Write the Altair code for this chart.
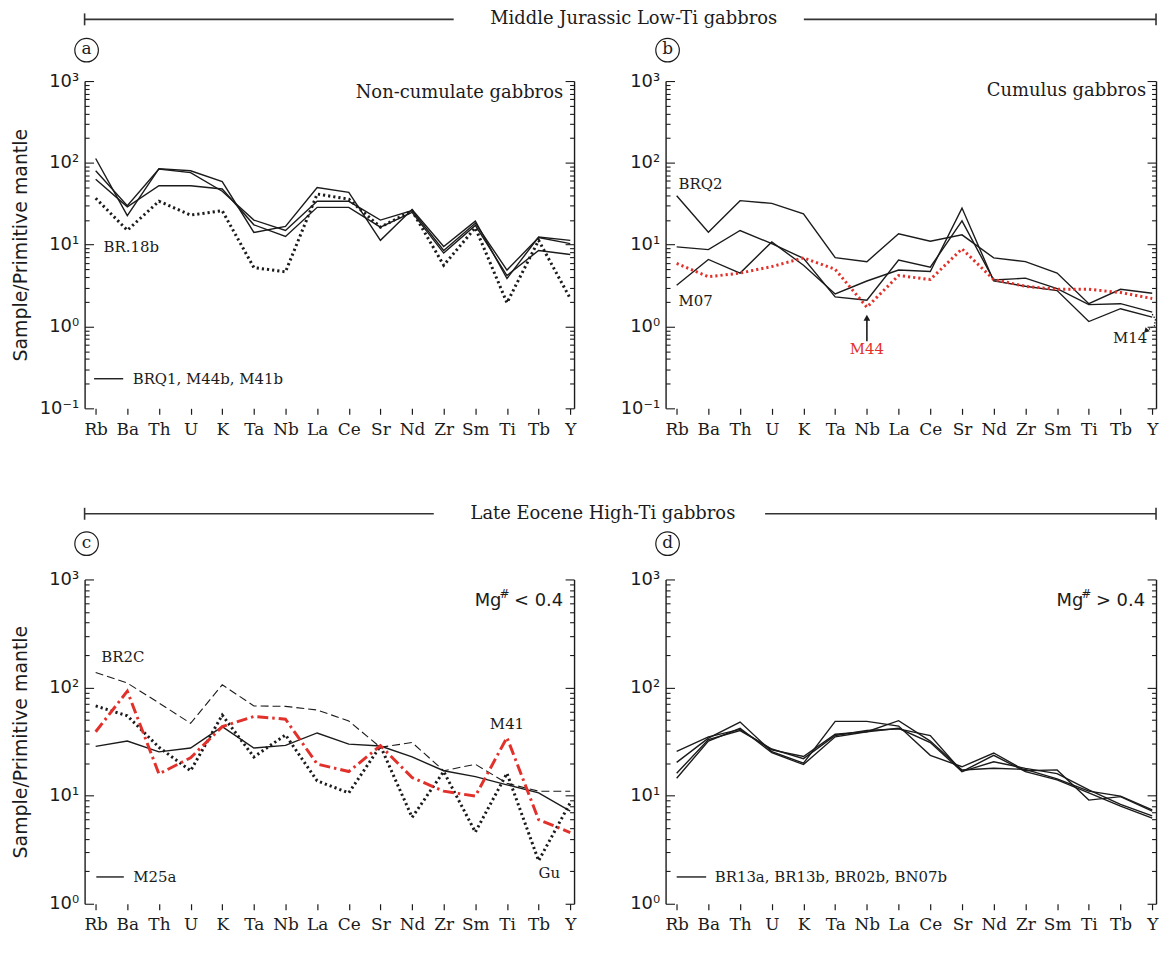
import altair as alt
import pandas as pd

# ---------------------------------------------------------------- data
ELEMENTS = ["Rb", "Ba", "Th", "U", "K", "Ta", "Nb", "La", "Ce", "Sr",
            "Nd", "Zr", "Sm", "Ti", "Tb", "Y"]

# (a) Middle Jurassic, non-cumulate gabbros
A_BRQ1 = [113, 22.7, 85, 80, 59, 14.1, 16.7, 50, 43.6, 11.3, 26.9, 9.5, 19.4, 3.86, 12.4, 11.3]
A_M44B = [80, 30, 84, 76, 45, 20, 14.9, 34, 33.9, 20, 26.1, 8.5, 18.3, 4.9, 12.2, 10.3]
A_M41B = [63, 29, 52.6, 52.6, 48, 17.5, 12.6, 28.6, 28.6, 16.4, 24.9, 7.9, 17.2, 4.2, 8.5, 7.6]
A_BR18B = [37, 15, 34, 23, 26, 5.25, 4.66, 41.6, 36, 16.4, 26, 5.6, 16.1, 1.95, 11.3, 2.2]

# (b) Middle Jurassic, cumulus gabbros
B_BRQ2 = [39.7, 14.2, 34.5, 32, 23.8, 6.95, 6.2, 13.6, 11, 13.2, 6.9, 6.2, 4.5, 1.9, 2.85, 2.55]
B_M14 = [9.4, 8.7, 14.9, 10.3, 6.8, 2.3, 2.1, 6.5, 5.3, 19.5, 3.7, 3.9, 2.9, 1.85, 1.9, 1.5]
B_M07 = [3.2, 6.6, 4.5, 10.8, 5.6, 2.5, 3.6, 4.9, 4.7, 28, 3.6, 3.1, 2.75, 1.15, 1.65, 1.3]
B_M44 = [5.9, 4.05, 4.5, 5.4, 6.9, 5.0, 1.72, 4.2, 3.75, 8.9, 3.75, 3.1, 2.85, 2.85, 2.6, 2.2]

# (c) Late Eocene, Mg# < 0.4
C_BR2C = [138, 110, 72, 46.7, 106, 67.6, 67, 62, 49, 28, 31, 17, 19.5, 13, 11, 11]
C_M25A = [28.6, 32, 25.4, 27.6, 43.5, 27.6, 29.2, 38, 30, 28.8, 22.8, 17, 15, 12.6, 10.6, 7.2]
C_M41 = [39, 92.6, 15.9, 22.4, 43.5, 54, 51, 19.6, 16.7, 29, 14.7, 11, 9.9, 34.5, 6.0, 4.56]
C_GU = [67.6, 54.8, 28, 17, 55.6, 22.8, 36.5, 13.7, 10.6, 28.8, 6.3, 16.7, 4.6, 16.1, 2.5, 8.6]

# (d) Late Eocene, Mg# > 0.4
D_BR13A = [25.7, 35, 41, 26.5, 23, 37, 39, 49.4, 32, 17.3, 17.9, 17.5, 14.3, 11, 9.9, 7.4]
D_BR13B = [20.3, 34, 48, 25.5, 20, 48.6, 48.6, 44, 23.6, 18.5, 24.8, 17, 17.3, 9.1, 9.8, 7.2]
D_BR02B = [16.1, 33, 40, 27, 22, 36, 40, 41.5, 36, 16.7, 20.6, 17.9, 16, 11.3, 8.3, 6.5]
D_BN07B = [14.5, 32, 42, 25, 19.4, 35, 39, 42, 31, 16.7, 23.6, 16.7, 14, 10.6, 8.0, 6.2]

# ---------------------------------------------------------------- styles
SLAB = "DejaVu Serif"
SANS = "DejaVu Sans"
INK = "#1b1b1b"
RED = "#e2312b"

STYLE = {
    "solid": dict(color=INK, strokeWidth=1.4),
    "dotted": dict(color=INK, strokeWidth=3, strokeDash=[2.2, 3]),
    "reddot": dict(color=RED, strokeWidth=3, strokeDash=[2.2, 3]),
    "dashed": dict(color=INK, strokeWidth=1.1, strokeDash=[8, 4]),
    "reddashdot": dict(color=RED, strokeWidth=3, strokeDash=[11, 4, 2.5, 4]),
}

W_LEFT, W_RIGHT = 492, 493
H_TOP, H_BOT = 329, 326

LABEL_EXPR = "[" + ",".join("'%s'" % e for e in ELEMENTS) + "][datum.value]"
SUP = {-1: "\u207b\u00b9", 0: "\u2070", 1: "\u00b9", 2: "\u00b2", 3: "\u00b3"}


def tick_values(lo_exp):
    vals = []
    for e in range(lo_exp, 3):
        for m in range(1, 10):
            vals.append(round(m * 10 ** e, 6))
    vals.append(1000)
    return vals


def ylabel_expr(lo_exp):
    parts = []
    for e in range(3, lo_exp - 1, -1):
        parts.append("datum.value == %s ? '10%s'" % (repr(round(10 ** e, 6)), SUP[e]))
    return " : ".join(parts) + " : ''"


def major_test(lo_exp):
    arr = ",".join(repr(round(10 ** e, 6)) for e in range(lo_exp, 4))
    return "indexof([%s], datum.value) >= 0" % arr


def x_enc():
    return alt.X(
        "i:Q",
        scale=alt.Scale(domain=[-0.35, 15.12], nice=False, zero=False),
        axis=alt.Axis(values=list(range(16)), labelExpr=LABEL_EXPR, title=None,
                      grid=False, domain=False, tickSize=6, tickColor=INK,
                      tickWidth=1.2, labelFont=SLAB, labelFontSize=17,
                      labelColor=INK, labelPadding=7, labelFlush=False,
                      labelOverlap=False, labelAngle=0),
    )


def panel(series, W, H, lo_exp, ytitle, annotations):
    ysc = alt.Scale(type="log", domain=[round(10 ** lo_exp, 6), 1000], nice=False)
    tsize = {"condition": {"test": major_test(lo_exp), "value": 9}, "value": 4.5}
    left = dict(orient="right", offset=-W, values=tick_values(lo_exp), tickSize=tsize,
                tickColor=INK, tickWidth=1.1, domain=True, domainColor=INK,
                domainWidth=1.4, grid=False, labelExpr=ylabel_expr(lo_exp),
                labelAlign="right", labelPadding=-15, labelFont=SANS,
                labelFontSize=18, labelColor=INK, labelFlush=False,
                labelOverlap=False, labelBound=False)
    if ytitle:
        left.update(title=ytitle, titleX=-64, titleY=H / 2, titleAngle=270,
                    titleFont=SANS, titleFontSize=19, titleFontWeight="normal",
                    titleColor=INK, titleAlign="center", titleBaseline="middle")
    else:
        left.update(title=None)
    right = dict(orient="left", offset=-W, values=tick_values(lo_exp), tickSize=tsize,
                 tickColor=INK, tickWidth=1.1, domain=True, domainColor=INK,
                 domainWidth=1.4, grid=False, labels=False, title=None)

    layers = []
    for k, (vals, style) in enumerate(series):
        df = pd.DataFrame({"i": list(range(len(ELEMENTS))), "v": vals})
        if k == 0:
            yax = alt.Axis(**left)
        elif k == 1:
            yax = alt.Axis(**right)
        else:
            yax = None
        layers.append(
            alt.Chart(df).mark_line(**STYLE[style]).encode(
                x=x_enc(), y=alt.Y("v:Q", scale=ysc, axis=yax))
        )

    def yv(field="v"):
        return alt.Y(field + ":Q", scale=ysc, axis=None)

    for ann in annotations:
        kind = ann[0]
        if kind == "text":
            _, rows, mk = ann
            df = pd.DataFrame(rows, columns=["t", "i", "v"])
            layers.append(alt.Chart(df).mark_text(**mk).encode(x=x_enc(), y=yv(), text="t:N"))
        elif kind == "seg":
            _, rows, mk = ann
            df = pd.DataFrame(rows, columns=["i", "i2", "v"])
            layers.append(alt.Chart(df).mark_rule(**mk).encode(
                x=x_enc(), x2="i2:Q", y=yv()))
        elif kind == "vseg":
            _, rows, mk = ann
            df = pd.DataFrame(rows, columns=["i", "v", "v2"])
            layers.append(alt.Chart(df).mark_rule(**mk).encode(
                x=x_enc(), y=yv(), y2="v2:Q"))
        elif kind == "path":
            _, rows, mk = ann
            df = pd.DataFrame(rows, columns=["i", "v"])
            df["o"] = range(len(df))
            layers.append(alt.Chart(df).mark_line(**mk).encode(
                x=x_enc(), y=yv(), order="o:Q"))
        elif kind == "point":
            _, rows, mk = ann
            df = pd.DataFrame(rows, columns=["i", "v"])
            layers.append(alt.Chart(df).mark_point(**mk).encode(x=x_enc(), y=yv()))
        elif kind == "ptext":
            _, txt, px, py, mk = ann
            layers.append(alt.Chart(pd.DataFrame({"k": [0]})).mark_text(**mk).encode(
                x=alt.value(px), y=alt.value(py), text=alt.value(txt)))
        elif kind == "prule":
            _, x1, x2, y1, y2, mk = ann
            enc = dict(x=alt.value(x1), y=alt.value(y1))
            if x2 is not None:
                enc["x2"] = alt.value(x2)
            if y2 is not None:
                enc["y2"] = alt.value(y2)
            layers.append(alt.Chart(pd.DataFrame({"k": [0]})).mark_rule(**mk).encode(**enc))
        elif kind == "pcircle":
            _, px, py, mk = ann
            layers.append(alt.Chart(pd.DataFrame({"k": [0]})).mark_point(**mk).encode(
                x=alt.value(px), y=alt.value(py)))

    return alt.layer(*layers).properties(width=W, height=H).resolve_axis(y="independent")


TXT = dict(font=SLAB, fontSize=15, color=INK, baseline="middle")
CORNER = dict(font=SLAB, fontSize=18, color=INK, baseline="middle", align="right")
RULE = dict(color="#333333", strokeWidth=1.6)


def letter(ch, py):
    return [("pcircle", 2, py, dict(shape="circle", size=560, filled=False,
                                      strokeWidth=1.2, color=INK, opacity=1)),
            ("ptext", ch, 2, py - 1, dict(font=SLAB, fontSize=17, color=INK,
                                         align="center", baseline="middle"))]


def header(text, y, x_left_end, x_center, x_right_start, x_end):
    return [("prule", 0, x_left_end, y, None, RULE),
            ("prule", x_right_start, x_end, y, None, RULE),
            ("prule", 0, None, y - 6, y + 6, RULE),
            ("prule", x_end, None, y - 6, y + 6, RULE),
            ("ptext", text, x_center, y, dict(font=SLAB, fontSize=18, color=INK,
                                              align="center", baseline="middle"))]


def mg_label(W, sign):
    return [("ptext", "Mg", W - 73, 22, dict(font=SANS, fontSize=18, color=INK, align="right", baseline="middle")),
            ("ptext", "#", W - 65, 15, dict(font=SANS, fontSize=12, color=INK, align="right", baseline="middle")),
            ("ptext", sign + " 0.4", W - 11, 22, dict(font=SANS, fontSize=18, color=INK, align="right", baseline="middle"))]


ann_a = (header("Middle Jurassic Low-Ti gabbros", -62, 371, 552, 723, 1077)
         + letter("a", -31)
         + [("ptext", "Non-cumulate gabbros", W_LEFT - 11, 12, CORNER),
            ("text", [("BR.18b", 0.25, 9.4)], dict(TXT, align="left")),
            ("seg", [(-0.05, 0.87, 0.23)], dict(color=INK, strokeWidth=1.4)),
            ("text", [("BRQ1,  M44b,  M41b", 1.17, 0.23)], dict(TXT, align="left"))])

ann_b = (letter("b", -31)
         + [("ptext", "Cumulus gabbros", W_RIGHT - 10, 10, CORNER),
            ("text", [("BRQ2", 0.06, 55), ("M07", 0.06, 2.07)], dict(TXT, align="left")),
            ("text", [("M44", 6.0, 0.53)], dict(TXT, align="center", color=RED)),
            ("vseg", [(6.0, 0.66, 1.2)], dict(color=INK, strokeWidth=1.6)),
            ("point", [(6.0, 1.28)], dict(shape="triangle-up", size=45, filled=True, color=INK, opacity=1)),
            ("text", [("M14", 14.3, 0.72)], dict(TXT, align="center")),
            ("path", [(15.0, 1.42), (15.1, 1.22), (15.07, 1.02), (14.85, 0.9)],
             dict(color=INK, strokeWidth=1.2, strokeDash=[1.5, 1.5])),
            ("point", [(14.8, 0.88)], dict(shape="triangle-down", angle=45, size=35, filled=True, color=INK, opacity=1))])

ann_c = (header("Late Eocene High-Ti gabbros", -66, 351, 521, 684, 1077)
         + letter("c", -36)
         + mg_label(W_LEFT, "<")
         + [("text", [("BR2C", 0.18, 190), ("Gu", 14.0, 1.93)], dict(TXT, align="left")),
            ("text", [("M41", 13.0, 46)], dict(TXT, align="center")),
            ("seg", [(0.02, 0.89, 1.77)], dict(color=INK, strokeWidth=1.4)),
            ("text", [("M25a", 1.19, 1.77)], dict(TXT, align="left"))])

ann_d = (letter("d", -36)
         + mg_label(W_RIGHT, ">")
         + [("seg", [(0.0, 0.93, 1.77)], dict(color=INK, strokeWidth=1.4)),
            ("text", [("BR13a,  BR13b,  BR02b,  BN07b", 1.2, 1.77)], dict(TXT, align="left"))])

pa = panel([(A_BRQ1, "solid"), (A_M44B, "solid"), (A_M41B, "solid"), (A_BR18B, "dotted")],
           W_LEFT, H_TOP, -1, "Sample/Primitive mantle", ann_a)
pb = panel([(B_BRQ2, "solid"), (B_M14, "solid"), (B_M07, "solid"), (B_M44, "reddot")],
           W_RIGHT, H_TOP, -1, None, ann_b)
pc = panel([(C_M25A, "solid"), (C_BR2C, "dashed"), (C_GU, "dotted"), (C_M41, "reddashdot")],
           W_LEFT, H_BOT, 0, "Sample/Primitive mantle", ann_c)
pd_ = panel([(D_BR13A, "solid"), (D_BR13B, "solid"), (D_BR02B, "solid"), (D_BN07B, "solid")],
            W_RIGHT, H_BOT, 0, None, ann_d)

chart = (alt.concat(pa, pb, pc, pd_, columns=2, spacing={"row": 172, "column": 92}, bounds="flush")
         .properties(padding={"left": 4, "top": 0, "right": 2, "bottom": 2}, background="white")
         .configure_view(stroke=None))

chart.save("out.html", embed_options={"renderer": "svg", "actions": False})
